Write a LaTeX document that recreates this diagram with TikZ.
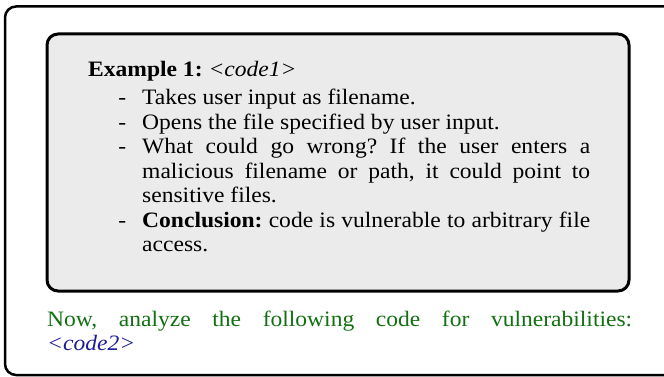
\documentclass[tikz,border=0pt]{standalone}
\usepackage{fontspec}
\setmainfont{Liberation Serif}[FakeStretch=1.07]
\definecolor{promptgreen}{RGB}{18,112,18}
\definecolor{codeblue}{RGB}{28,28,150}
\definecolor{boxgray}{RGB}{235,235,235}
\tikzset{
  outerframe/.style={line width=2.5pt, rounded corners=11pt},
  innerframe/.style={line width=3pt, rounded corners=11pt, fill=boxgray},
  bodytext/.style={anchor=north west, inner sep=0pt, align=justify},
}
\newenvironment{dashlist}{\begin{list}{-}{\setlength\leftmargin{54pt}\setlength\labelsep{16pt}\setlength\labelwidth{38pt}\setlength\itemsep{0pt}\setlength\parsep{0pt}\setlength\topsep{4pt}\setlength\partopsep{0pt}\setlength\rightmargin{0pt}}}{\end{list}}
\begin{document}
\frenchspacing
\begin{tikzpicture}[x=1pt,y=-1pt,font=\fontsize{22}{24.5}\selectfont\frenchspacing]
\useasboundingbox (0,0) rectangle (664,377);
\begin{scope}
  \clip (0,0) rectangle (664,377);
  \draw[outerframe] (5,6.5) rectangle (700,375);
\end{scope}
\draw[innerframe] (47,34) rectangle (629,291);
\node[bodytext, text width=502pt] (example) at (88,60.6) {%
\textbf{Example 1:} \textit{<code1>}
\begin{dashlist}
\item Takes user input as filename.
\item Opens the file specified by user input.
\item What could go wrong? If the user enters a\linebreak malicious filename or path, it could point to\linebreak sensitive files.
\item \textbf{Conclusion:} code is vulnerable to arbitrary file\linebreak access.
\end{dashlist}};
\node[bodytext, text width=585pt, text=promptgreen] (prompt) at (47,310.4) {%
Now, analyze the following code for vulnerabilities:\linebreak
\textcolor{codeblue}{\textit{<code2>}}};
\end{tikzpicture}
\end{document}
